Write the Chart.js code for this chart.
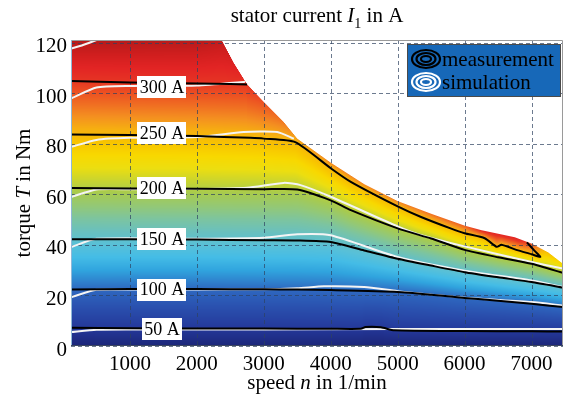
<!DOCTYPE html>
<html>
<head>
<meta charset="utf-8">
<script src="https://cdn.jsdelivr.net/npm/chart.js@4.4.1/dist/chart.umd.min.js"></script>
<style>
  html, body { margin: 0; padding: 0; background: #fff; }
</style>
</head>
<body>
<canvas id="currentMap" width="568" height="398"></canvas>
<script>
// Axis ticks
var speedTicks = [1000, 2000, 3000, 4000, 5000, 6000, 7000];
var torqueTicks = [0, 20, 40, 60, 80, 100, 120];

// Measured iso-current lines, [speed in 1/min, torque in Nm]
var meas50 = [[120, 7.2], [1000, 7.0], [2000, 6.9], [3000, 6.9], [4000, 6.8], [4450, 6.8], [4520, 7.5], [4750, 7.4], [4950, 6.2], [6000, 5.9], [7000, 5.8], [7470, 5.7]];
var meas100 = [[120, 22.3], [1000, 22.5], [2000, 22.5], [3000, 22.4], [3500, 22.3], [4000, 22.1], [5000, 21.4], [5500, 20.3], [6000, 19.0], [6500, 17.9], [7000, 16.7], [7470, 15.4]];
var meas150 = [[120, 42.2], [1000, 42.2], [2000, 42.1], [3000, 41.8], [3500, 41.7], [4000, 41.1], [4500, 37.8], [5000, 34.5], [5500, 31.8], [6000, 29.2], [6500, 27.2], [7000, 25.3], [7470, 23.1]];
var meas200 = [[120, 62.5], [1000, 62.3], [2000, 62.2], [3000, 62.0], [3500, 61.9], [4000, 57.6], [4300, 53.7], [5000, 46.5], [5500, 42.5], [6000, 38.0], [6500, 35.1], [7000, 32.5], [7470, 28.9]];
var meas250 = [[120, 83.6], [1000, 83.4], [2000, 83.0], [2800, 82.3], [3000, 82.0], [3470, 80.6], [4000, 70.3], [4300, 64.9], [5000, 55.2], [5350, 51.0], [5800, 46.4], [6000, 44.6], [6300, 42.6], [6480, 39.2], [6550, 40.0], [6800, 37.8], [7000, 36.3], [7130, 35.2], [7050, 37.5], [6930, 41.0]];
var meas300 = [[120, 104.8], [1000, 104.2], [2000, 103.8], [2500, 103.6], [2750, 103.4]];

// Simulated iso-current lines
var sim50 = [[120, 5.5], [500, 6.4], [1000, 6.5], [3000, 6.5], [5000, 6.7], [7470, 6.7]];
var sim100 = [[120, 19.3], [500, 22.2], [1000, 22.3], [3000, 22.4], [3500, 22.8], [3900, 23.6], [4500, 23.3], [5000, 21.7], [6000, 19.1], [7000, 17.4], [7470, 16.0]];
var sim150 = [[120, 39.1], [500, 42.4], [2000, 42.4], [3000, 42.8], [3500, 44.2], [4000, 43.8], [5000, 35.2], [6000, 29.8], [7000, 25.9], [7470, 23.3]];
var sim200 = [[120, 58.9], [500, 61.9], [1000, 62.0], [2000, 62.1], [2750, 62.6], [3300, 64.5], [3550, 63.6], [4000, 59.0], [5000, 47.3], [5350, 43.8], [6000, 39.4], [7000, 33.2], [7470, 30.6]];
var sim250 = [[120, 78.7], [500, 81.5], [1000, 82.3], [2000, 82.6], [2700, 84.6], [3200, 84.6], [3450, 82.0]];
var sim300 = [[120, 97.9], [500, 102.2], [1000, 102.8], [2000, 103.0], [2720, 104.5]];
var sim350 = [[120, 117.6], [300, 119.0], [500, 121.0]];

// Operating limit and the current measured along it
var maxTorque = [[120, 121], [2370, 121], [2550, 112], [2750, 103.5], [3000, 96.5], [3300, 88.5], [3500, 82], [4000, 72.5], [4500, 64], [5000, 57.3], [5500, 52.3], [6000, 47.6], [6250, 45.8], [6750, 43], [7000, 40.5], [7250, 37], [7470, 32.5]];
var edgeCurrent = [[120, 345], [2000, 343], [2370, 338], [2750, 302], [3000, 290], [3300, 275], [3500, 262], [4000, 270], [5000, 272], [6000, 285], [6300, 312], [6800, 315], [7000, 290], [7200, 250], [7470, 232]];
var idleCurrent = 28;

// Contour labels
var labelText = ['300 A', '250 A', '200 A', '150 A', '100 A', '50 A'];
var labelTorque = [102.3, 84.3, 62.3, 42.2, 22.3, 6.8];
var labelSpeed = 1480;

var legendText = ['measurement', 'simulation'];

// Colour scale, current in A
var currentStops = [28, 50, 77, 100, 110, 119, 132, 144, 157, 170, 182, 195, 207, 219, 231, 243, 255, 267, 278, 290, 301, 315, 329, 345];
var colorStops = ['#1c2678', '#24389a', '#2a50ae', '#2e68c0', '#2f88d0', '#30a4de', '#44bce6', '#58c0d8', '#68c0c0', '#7cc4a0', '#92c878', '#a6ca50', '#c8d430', '#ecde10', '#f8d800', '#f8c400', '#f6b010', '#f49020', '#f07022', '#ec5022', '#e63424', '#e22424', '#d01e1e', '#b41a1a'];

var SERIF = "'Liberation Serif', 'Times New Roman', serif";

function rgb(hex) {
  return [parseInt(hex.substr(1, 2), 16), parseInt(hex.substr(3, 2), 16), parseInt(hex.substr(5, 2), 16)];
}
var stopRgb = colorStops.map(rgb);

function colorFor(amps) {
  if (amps <= currentStops[0]) return stopRgb[0];
  var n = currentStops.length;
  if (amps >= currentStops[n - 1]) return stopRgb[n - 1];
  for (var k = 0; k < n - 1; k++) {
    if (amps <= currentStops[k + 1]) {
      var f = (amps - currentStops[k]) / (currentStops[k + 1] - currentStops[k]);
      var a = stopRgb[k], b = stopRgb[k + 1];
      return [a[0] + (b[0] - a[0]) * f, a[1] + (b[1] - a[1]) * f, a[2] + (b[2] - a[2]) * f];
    }
  }
}

// torque of a line at a given speed (only the rising-speed part of the line)
function lineAt(pts, s) {
  var end = 0;
  while (end + 1 < pts.length && pts[end + 1][0] > pts[end][0]) end++;
  if (s <= pts[0][0]) return pts[0][1];
  if (s > pts[end][0]) return null;
  for (var k = 0; k < end; k++) {
    if (s <= pts[k + 1][0]) {
      var f = (s - pts[k][0]) / (pts[k + 1][0] - pts[k][0]);
      return pts[k][1] + (pts[k + 1][1] - pts[k][1]) * f;
    }
  }
  return pts[end][1];
}

var measLevels = [[50, meas50], [100, meas100], [150, meas150], [200, meas200], [250, meas250], [300, meas300]];

var fieldCanvas = null;

function buildField(chart) {
  var area = chart.chartArea, xs = chart.scales.x, ys = chart.scales.y;
  var w = Math.round(area.right - area.left), h = Math.round(area.bottom - area.top);
  var off = document.createElement('canvas');
  off.width = w; off.height = h;
  var octx = off.getContext('2d');
  var img = octx.createImageData(w, h);
  var dT = (ys.max - ys.min) / h;

  for (var i = 0; i < w; i++) {
    var s = xs.getValueForPixel(area.left + i + 0.5);
    var edgeT = lineAt(maxTorque, s);
    var edgeI = lineAt(edgeCurrent, s);
    var steps = [[0, idleCurrent]];
    measLevels.forEach(function (lv) {
      var t = lineAt(lv[1], s);
      if (t !== null && t < edgeT - 0.01 && t > steps[steps.length - 1][0]) steps.push([t, lv[0]]);
    });
    steps.push([edgeT, edgeI]);

    for (var j = 0; j < h; j++) {
      var T = ys.getValueForPixel(area.top + j + 0.5);
      var alpha = Math.max(0, Math.min(1, (edgeT - T) / dT + 0.5));
      if (alpha <= 0) continue;
      var amps = edgeI;
      for (var k = 0; k < steps.length - 1; k++) {
        if (T <= steps[k + 1][0]) {
          var f = (T - steps[k][0]) / (steps[k + 1][0] - steps[k][0]);
          amps = steps[k][1] + (steps[k + 1][1] - steps[k][1]) * Math.max(0, f);
          break;
        }
      }
      var c = colorFor(amps);
      var p = (j * w + i) * 4;
      img.data[p] = c[0]; img.data[p + 1] = c[1]; img.data[p + 2] = c[2];
      img.data[p + 3] = Math.round(alpha * 255);
    }
  }
  octx.putImageData(img, 0, 0);
  return off;
}

var currentField = {
  id: 'currentField',
  beforeDraw: function (chart) {
    var area = chart.chartArea;
    if (!fieldCanvas) fieldCanvas = buildField(chart);
    chart.ctx.drawImage(fieldCanvas, Math.round(area.left), Math.round(area.top));
  },
  beforeDatasetsDraw: function (chart) {
    var ctx = chart.ctx, area = chart.chartArea, xs = chart.scales.x, ys = chart.scales.y;
    ctx.save();
    ctx.strokeStyle = 'rgba(45, 65, 95, 0.7)';
    ctx.lineWidth = 1;
    ctx.setLineDash([4, 3]);
    speedTicks.forEach(function (v) {
      var x = Math.round(xs.getPixelForValue(v)) + 0.5;
      ctx.beginPath(); ctx.moveTo(x, area.top); ctx.lineTo(x, area.bottom); ctx.stroke();
    });
    torqueTicks.forEach(function (v) {
      var y = Math.round(ys.getPixelForValue(v)) + 0.5;
      ctx.beginPath(); ctx.moveTo(area.left, y); ctx.lineTo(area.right, y); ctx.stroke();
    });
    ctx.restore();
  },
  afterDatasetsDraw: function (chart) {
    var ctx = chart.ctx, area = chart.chartArea, xs = chart.scales.x, ys = chart.scales.y;
    ctx.save();
    // frame
    ctx.lineWidth = 1;
    ctx.strokeStyle = '#9a9a9a';
    ctx.beginPath();
    ctx.moveTo(area.left, area.top + 0.5); ctx.lineTo(area.right - 0.5, area.top + 0.5); ctx.lineTo(area.right - 0.5, area.bottom);
    ctx.stroke();
    ctx.strokeStyle = '#8fb8d8';
    ctx.beginPath(); ctx.moveTo(area.left + 0.5, area.top); ctx.lineTo(area.left + 0.5, area.bottom); ctx.stroke();
    ctx.strokeStyle = '#3c4660';
    ctx.beginPath(); ctx.moveTo(area.left, area.bottom - 0.5); ctx.lineTo(area.right, area.bottom - 0.5); ctx.stroke();

    // contour labels
    ctx.font = '18px ' + SERIF;
    ctx.textAlign = 'center';
    ctx.textBaseline = 'middle';
    labelText.forEach(function (txt, i) {
      var x = xs.getPixelForValue(labelSpeed), y = ys.getPixelForValue(labelTorque[i]);
      var w = ctx.measureText(txt).width + 5;
      ctx.fillStyle = '#ffffff';
      ctx.fillRect(Math.round(x - w / 2), Math.round(y - 11), Math.round(w), 22);
      ctx.fillStyle = '#000000';
      ctx.fillText(txt, x, y + 1);
    });
    ctx.restore();
  },
  afterDraw: function (chart) {
    var ctx = chart.ctx, area = chart.chartArea;
    ctx.save();

    // legend
    ctx.fillStyle = '#1768b8';
    ctx.fillRect(407, 44, 154, 53);
    ctx.strokeStyle = '#4a4a4a';
    ctx.lineWidth = 1;
    ctx.strokeRect(407.5, 44.5, 153, 52);
    [['#000000', 59], ['#ffffff', 82]].forEach(function (ic, i) {
      ctx.strokeStyle = ic[0];
      ctx.lineWidth = 2.2;
      [[14, 9], [9.5, 6], [5, 3]].forEach(function (r) {
        ctx.beginPath();
        ctx.ellipse(426, ic[1], r[0], r[1], 0, 0, Math.PI * 2);
        ctx.stroke();
      });
      ctx.fillStyle = '#000000';
      ctx.font = '21px ' + SERIF;
      ctx.textAlign = 'left';
      ctx.textBaseline = 'alphabetic';
      ctx.fillText(legendText[i], 442, ic[1] + 7);
    });

    // titles
    ctx.fillStyle = '#000000';
    var cx = (area.left + area.right) / 2;
    drawRich(ctx, [
      { text: 'stator current ', font: '21px ' + SERIF },
      { text: 'I', font: 'italic 21px ' + SERIF },
      { text: '1', font: '14px ' + SERIF, dy: 6 },
      { text: ' in A', font: '21px ' + SERIF }
    ], cx, 22);
    drawRich(ctx, [
      { text: 'speed ', font: '21px ' + SERIF },
      { text: 'n', font: 'italic 21px ' + SERIF },
      { text: ' in 1/min', font: '21px ' + SERIF }
    ], cx, 389);
    ctx.translate(30, (area.top + area.bottom) / 2);
    ctx.rotate(-Math.PI / 2);
    drawRich(ctx, [
      { text: 'torque ', font: '21px ' + SERIF },
      { text: 'T', font: 'italic 21px ' + SERIF },
      { text: ' in Nm', font: '21px ' + SERIF }
    ], 0, 0);
    ctx.restore();
  }
};

function drawRich(ctx, parts, cx, y) {
  var total = 0;
  ctx.textAlign = 'left';
  ctx.textBaseline = 'alphabetic';
  parts.forEach(function (p) { ctx.font = p.font; p.w = ctx.measureText(p.text).width; total += p.w; });
  var x = cx - total / 2;
  parts.forEach(function (p) { ctx.font = p.font; ctx.fillText(p.text, x, y + (p.dy || 0)); x += p.w; });
}

function line(pts, color) {
  return {
    data: pts.map(function (p) { return { x: p[0], y: p[1] }; }),
    borderColor: color,
    borderWidth: 2,
    pointRadius: 0,
    tension: 0.2,
    fill: false
  };
}

var datasets = [meas50, meas100, meas150, meas200, meas250, meas300].map(function (p) { return line(p, '#000000'); })
  .concat([sim50, sim100, sim150, sim200, sim250, sim300, sim350].map(function (p) { return line(p, '#f4f4f4'); }));

new Chart(document.getElementById('currentMap'), {
  type: 'line',
  data: { datasets: datasets },
  plugins: [currentField],
  options: {
    responsive: false,
    animation: false,
    events: [],
    layout: { padding: { top: 40, right: 5, left: 0, bottom: 0 } },
    plugins: { legend: { display: false }, tooltip: { enabled: false } },
    scales: {
      x: {
        type: 'linear',
        min: 120,
        max: 7470,
        afterBuildTicks: function (s) { s.ticks = speedTicks.map(function (v) { return { value: v }; }); },
        afterFit: function (s) { s.height = 52; },
        grid: { display: false, drawTicks: false },
        border: { display: false },
        ticks: {
          color: '#000',
          padding: 6,
          maxRotation: 0,
          font: { family: SERIF, size: 21 },
          callback: function (v) { return String(v); }
        }
      },
      y: {
        type: 'linear',
        min: 0,
        max: 121,
        afterBuildTicks: function (s) { s.ticks = torqueTicks.map(function (v) { return { value: v }; }); },
        afterFit: function (s) { s.width = 71; },
        grid: { display: false, drawTicks: false },
        border: { display: false },
        ticks: {
          color: '#000',
          padding: 4,
          labelOffset: 4,
          font: { family: SERIF, size: 21 },
          callback: function (v) { return String(v); }
        }
      }
    }
  }
});
</script>
</body>
</html>
